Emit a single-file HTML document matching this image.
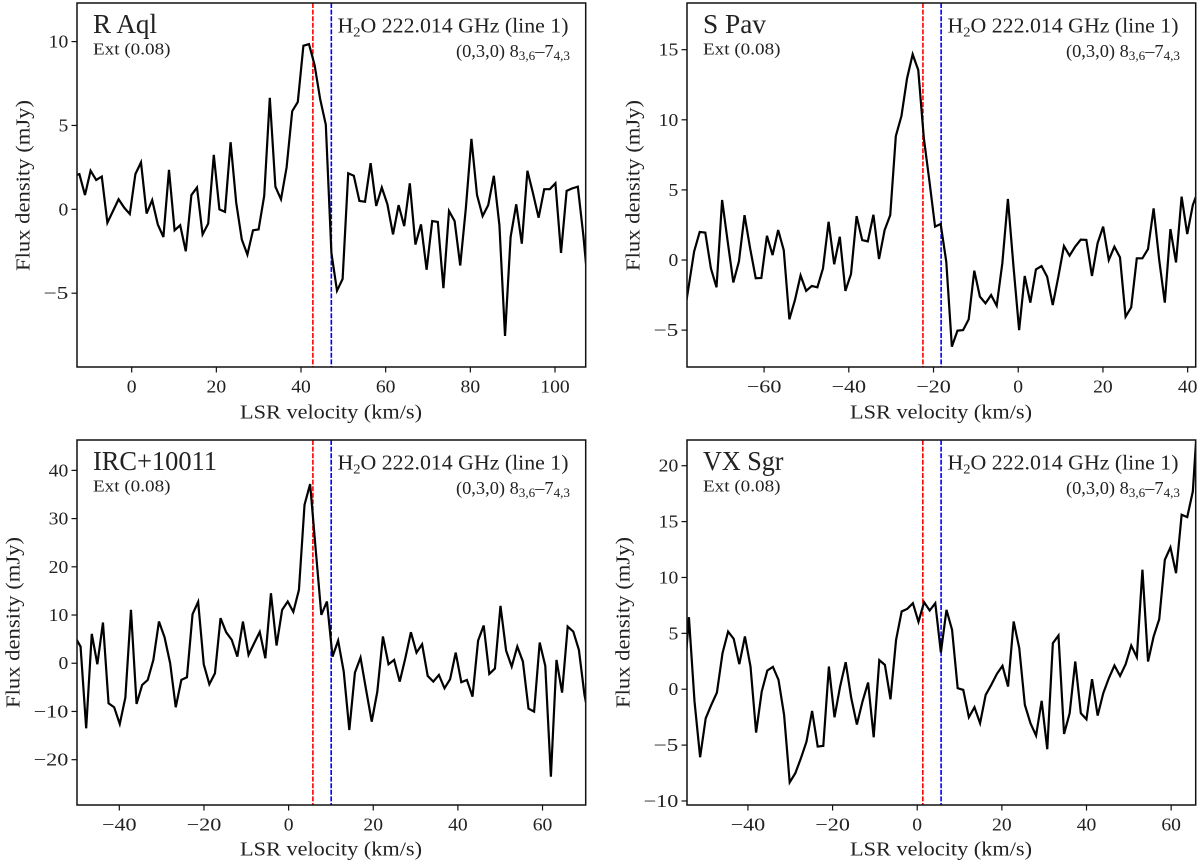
<!DOCTYPE html>
<html lang="en">
<head>
<meta charset="utf-8">
<title>H2O 222.014 GHz spectra</title>
<style>
html,body{margin:0;padding:0;background:#fff;}
svg{display:block;}
text{font-family:"Liberation Serif",serif;fill:#222;}
</style>
</head>
<body>
<svg id="figure" xmlns="http://www.w3.org/2000/svg" width="1200" height="864" viewBox="0 0 1200 864">
  <rect x="0" y="0" width="1200" height="864" fill="#fff"/>
  <defs>
    <clipPath id="clip-a"><rect x="77" y="3" width="508.7" height="364"/></clipPath>
    <clipPath id="clip-b"><rect x="687" y="3" width="508.7" height="364"/></clipPath>
    <clipPath id="clip-c"><rect x="77" y="440" width="508.7" height="365"/></clipPath>
    <clipPath id="clip-d"><rect x="687" y="440" width="508.7" height="365"/></clipPath>
  </defs>

  <g id="panel-r-aql">
    <text x="93" y="33" font-size="27" textLength="64" lengthAdjust="spacingAndGlyphs">R Aql</text>
    <text x="93" y="54.5" font-size="17" textLength="77.5" lengthAdjust="spacingAndGlyphs">Ext (0.08)</text>
    <text x="337.5" y="32.7" font-size="21" textLength="231" lengthAdjust="spacingAndGlyphs">H<tspan font-size="14" dy="4">2</tspan><tspan dy="-4">O 222.014 GHz (line 1)</tspan></text>
    <text x="456" y="57" font-size="17.5" textLength="114" lengthAdjust="spacingAndGlyphs">(0,3,0) 8<tspan font-size="12.5" dy="3">3,6</tspan><tspan dy="-3">–7</tspan><tspan font-size="12.5" dy="3">4,3</tspan></text>
    <text x="240" y="418.5" font-size="20" textLength="182" lengthAdjust="spacingAndGlyphs">LSR velocity (km/s)</text>
    <text transform="translate(29.5 271) rotate(-90)" font-size="20" textLength="171" lengthAdjust="spacingAndGlyphs">Flux density (mJy)</text>
  </g>

  <g id="panel-s-pav">
    <text x="703" y="33" font-size="27" textLength="63" lengthAdjust="spacingAndGlyphs">S Pav</text>
    <text x="703" y="54.5" font-size="17" textLength="77.5" lengthAdjust="spacingAndGlyphs">Ext (0.08)</text>
    <text x="947.5" y="32.7" font-size="21" textLength="231" lengthAdjust="spacingAndGlyphs">H<tspan font-size="14" dy="4">2</tspan><tspan dy="-4">O 222.014 GHz (line 1)</tspan></text>
    <text x="1066" y="57" font-size="17.5" textLength="114" lengthAdjust="spacingAndGlyphs">(0,3,0) 8<tspan font-size="12.5" dy="3">3,6</tspan><tspan dy="-3">–7</tspan><tspan font-size="12.5" dy="3">4,3</tspan></text>
    <text x="850" y="418.5" font-size="20" textLength="182" lengthAdjust="spacingAndGlyphs">LSR velocity (km/s)</text>
    <text transform="translate(639.5 271) rotate(-90)" font-size="20" textLength="171" lengthAdjust="spacingAndGlyphs">Flux density (mJy)</text>
  </g>

  <g id="panel-irc">
    <text x="93" y="470" font-size="27" textLength="124" lengthAdjust="spacingAndGlyphs">IRC+10011</text>
    <text x="93" y="491.5" font-size="17" textLength="77.5" lengthAdjust="spacingAndGlyphs">Ext (0.08)</text>
    <text x="337.5" y="469.7" font-size="21" textLength="231" lengthAdjust="spacingAndGlyphs">H<tspan font-size="14" dy="4">2</tspan><tspan dy="-4">O 222.014 GHz (line 1)</tspan></text>
    <text x="456" y="494" font-size="17.5" textLength="114" lengthAdjust="spacingAndGlyphs">(0,3,0) 8<tspan font-size="12.5" dy="3">3,6</tspan><tspan dy="-3">–7</tspan><tspan font-size="12.5" dy="3">4,3</tspan></text>
    <text x="240" y="855.5" font-size="20" textLength="182" lengthAdjust="spacingAndGlyphs">LSR velocity (km/s)</text>
    <text transform="translate(19.5 708) rotate(-90)" font-size="20" textLength="171" lengthAdjust="spacingAndGlyphs">Flux density (mJy)</text>
  </g>

  <g id="panel-vx-sgr">
    <text x="703" y="470" font-size="27" textLength="80.5" lengthAdjust="spacingAndGlyphs">VX Sgr</text>
    <text x="703" y="491.5" font-size="17" textLength="77.5" lengthAdjust="spacingAndGlyphs">Ext (0.08)</text>
    <text x="947.5" y="469.7" font-size="21" textLength="231" lengthAdjust="spacingAndGlyphs">H<tspan font-size="14" dy="4">2</tspan><tspan dy="-4">O 222.014 GHz (line 1)</tspan></text>
    <text x="1066" y="494" font-size="17.5" textLength="114" lengthAdjust="spacingAndGlyphs">(0,3,0) 8<tspan font-size="12.5" dy="3">3,6</tspan><tspan dy="-3">–7</tspan><tspan font-size="12.5" dy="3">4,3</tspan></text>
    <text x="850" y="855.5" font-size="20" textLength="182" lengthAdjust="spacingAndGlyphs">LSR velocity (km/s)</text>
    <text transform="translate(629.5 708) rotate(-90)" font-size="20" textLength="171" lengthAdjust="spacingAndGlyphs">Flux density (mJy)</text>
  </g>
</svg>

<script>
// Channel width shared by all spectra (km/s)
const channelWidth = 1.323;

// R Aql
const rAqlFirstVelocity = -13.68;
const rAqlFlux = [2.0,2.1,0.85,2.3,1.75,1.95,-0.8,-0.1,0.6,0.1,-0.28,2.1,2.8,-0.25,0.55,-0.9,-1.65,2.35,-1.25,-0.95,-2.5,0.85,1.3,-1.5,-0.85,3.25,0,-0.15,4.0,0.4,-1.8,-2.7,-1.25,-1.2,0.8,6.65,1.35,0.6,2.5,5.85,6.4,9.75,9.85,8.6,6.56,5.05,-2.6,-4.85,-4.15,2.15,2.0,0.5,0.45,2.75,0.2,1.3,0.3,-1.5,0.25,-1.0,1.55,-2.1,-0.9,-3.6,-0.7,-0.75,-4.7,-0.1,-0.7,-3.35,0.05,4.2,0.85,-0.4,0.25,2.0,-0.95,-7.55,-1.65,0.3,-2.05,2.3,0.95,-0.5,1.2,1.2,1.55,-2.6,1.1,1.25,1.35,-1.6,-5.2];
const rAqlXTicks = [0,20,40,60,80,100];
const rAqlYTicks = [-5,0,5,10];
const rAqlMarkers = [42.8,47.16];

// S Pav
const sPavFirstVelocity = -79.17;
const sPavFlux = [-4.5,-1.97,0.6,2.0,1.95,-0.6,-1.95,4.28,1.3,-1.6,-0.1,3.2,0.83,-1.3,-1.28,1.73,0.35,2.14,0.7,-4.23,-2.85,-1.1,-2.2,-1.85,-1.95,-0.6,2.73,-0.3,1.66,-2.2,-1.0,3.13,1.42,1.33,3.23,0.07,2.14,3.2,8.84,10.27,12.95,14.67,13.55,8.68,5.6,2.38,2.57,-0.12,-6.18,-5.04,-5.0,-4.23,-0.76,-2.61,-3.09,-2.5,-3.26,-0.24,4.35,-0.48,-5.0,-1.14,-3.04,-0.67,-0.43,-1.19,-3.21,-1.19,1.0,0.31,0.95,1.45,1.43,-1.14,1.19,2.38,0,0.95,0.19,-4.04,-3.38,0.12,0.12,0.78,3.68,0,-3.04,2.21,-0.17,4.52,1.85,3.92,5.0];
const sPavXTicks = [-60,-40,-20,0,20,40];
const sPavYTicks = [-5,0,5,10,15];
const sPavMarkers = [-22.5,-18.2];

// IRC+10011
const ircFirstVelocity = -50.48;
const ircFlux = [5.5,3.46,-13.5,6.09,-0.21,8.44,-8.3,-9.13,-12.6,-7.13,11.07,-8.44,-4.5,-3.46,0.69,8.65,5.4,0,-9.13,-3.46,-2.9,10.17,12.73,-0.21,-4.36,-2.08,9.34,6.44,4.84,1.38,8.65,1.73,4.15,6.5,1.04,14.53,3.67,11.07,12.8,10.66,15.22,32.87,37.16,23.53,10.03,12.8,1.38,4.7,-1.73,-13.84,-1.94,1.18,-5.54,-12.11,-5.88,5.54,-0.21,0.69,-3.81,1.04,6.44,2.21,3.94,-2.63,-3.81,-2.42,-5.19,-3.32,2.21,-3.94,-3.46,-6.92,4.7,7.82,-2.21,-1.11,11.9,2.63,-0.69,3.46,0.35,-9.41,-10.03,4.29,-0.55,-23.53,0.69,-6.09,7.61,6.57,2.77,-6.57,-12.46];
const ircXTicks = [-40,-20,0,20,40,60];
const ircYTicks = [-20,-10,0,10,20,30,40];
const ircMarkers = [5.74,10.06];

// VX Sgr
const vxSgrFirstVelocity = -55.27;
const vxSgrFlux = [-0.15,6.45,-1.1,-6.09,-2.6,-1.4,-0.3,3.22,5.16,4.51,2.24,4.72,2.03,-3.88,-0.21,1.67,2.0,0.84,-2.3,-8.33,-7.52,-6.18,-4.69,-1.94,-5.13,-5.07,2.03,-2.51,0.24,2.42,-0.81,-3.16,-1.1,0.6,-4.3,2.6,2.18,-0.9,4.42,6.96,7.19,7.7,6.03,7.79,7.04,7.7,3.28,7.1,5.31,0.09,-0.06,-2.51,-1.61,-3.04,-0.51,0.39,1.37,2.09,0.24,6.06,3.67,-1.4,-3.04,-4.15,-1.04,-5.37,4.12,4.81,-4.0,-2.15,2.48,-2.15,-2.69,0.9,-2.36,-0.36,0.99,2.12,1.19,2.24,3.91,2.87,10.69,2.48,4.72,6.27,11.58,12.69,10.39,15.61,15.4,17.7,25.5];
const vxSgrXTicks = [-40,-20,0,20,40,60];
const vxSgrYTicks = [-10,-5,0,5,10,15,20];
const vxSgrMarkers = [1.32,5.64];

const SVG_NS = 'http://www.w3.org/2000/svg';
const DIGIT_WIDTH = 9.8;
const MINUS_WIDTH = 15;

function svgEl(tag, attrs) {
  const el = document.createElementNS(SVG_NS, tag);
  for (const k in attrs) el.setAttribute(k, attrs[k]);
  return el;
}

function formatTick(v) {
  return (v < 0 ? '\u2212' : '') + Math.abs(v);
}

function tickWidth(v) {
  return String(Math.abs(v)).length * DIGIT_WIDTH + (v < 0 ? MINUS_WIDTH : 0);
}

function drawPanel(panelId, clipId, box, xDomain, yDomain, firstVelocity, flux, xTicks, yTicks, markers) {
  const g = document.getElementById(panelId);
  const xScale = v => box.left + (v - xDomain[0]) / (xDomain[1] - xDomain[0]) * (box.right - box.left);
  const yScale = v => box.bottom - (v - yDomain[0]) / (yDomain[1] - yDomain[0]) * (box.bottom - box.top);

  // rest/systemic velocity markers
  const markerColors = ['#ff0000', '#0000ff'];
  markers.forEach((m, i) => {
    const line = svgEl('line', {x1: xScale(m), x2: xScale(m), y1: box.top, y2: box.bottom,
      stroke: markerColors[i], 'stroke-width': 1.6, 'stroke-dasharray': '5 1.6'});
    
    
    g.appendChild(line);
  });

  // spectrum
  const points = flux.map((f, i) => xScale(firstVelocity + i * channelWidth).toFixed(2) + ',' + yScale(f).toFixed(2)).join(' ');
  const spectrum = svgEl('polyline', {points: points, fill: 'none', stroke: '#000', 'stroke-width': 2.2,
    'stroke-linejoin': 'miter', 'clip-path': 'url(#' + clipId + ')'});
  
  
  g.appendChild(spectrum);

  // frame
  const frame = svgEl('rect', {x: box.left, y: box.top, width: box.right - box.left, height: box.bottom - box.top,
    fill: 'none', stroke: '#111', 'stroke-width': 1.5});
  
  
  g.appendChild(frame);

  // x ticks
  xTicks.forEach(t => {
    const x = xScale(t);
    const tick = svgEl('line', {x1: x, x2: x, y1: box.bottom, y2: box.bottom + 5.5, stroke: '#111', 'stroke-width': 1.2});
    
    
    g.appendChild(tick);
    const label = svgEl('text', {x: x - tickWidth(t) / 2, y: box.bottom + 25.5, 'font-size': 18,
      textLength: tickWidth(t), lengthAdjust: 'spacingAndGlyphs'});
    
    
    label.textContent = formatTick(t);
    g.appendChild(label);
  });

  // y ticks
  yTicks.forEach(t => {
    const y = yScale(t);
    const tick = svgEl('line', {x1: box.left - 5.5, x2: box.left, y1: y, y2: y, stroke: '#111', 'stroke-width': 1.2});
    
    
    g.appendChild(tick);
    const label = svgEl('text', {x: box.left - 8.7 - tickWidth(t), y: y + 6, 'font-size': 18,
      textLength: tickWidth(t), lengthAdjust: 'spacingAndGlyphs'});
    
    
    label.textContent = formatTick(t);
    g.appendChild(label);
  });
}

drawPanel('panel-r-aql', 'clip-a', {left: 77, right: 585.7, top: 3, bottom: 367}, [-12.92, 107.25], [-9.4, 12.3],
  rAqlFirstVelocity, rAqlFlux, rAqlXTicks, rAqlYTicks, rAqlMarkers);
drawPanel('panel-s-pav', 'clip-b', {left: 687, right: 1195.7, top: 3, bottom: 367}, [-78.2, 41.9], [-7.63, 18.33],
  sPavFirstVelocity, sPavFlux, sPavXTicks, sPavYTicks, sPavMarkers);
drawPanel('panel-irc', 'clip-c', {left: 77, right: 585.7, top: 440, bottom: 805}, [-50.0, 70.2], [-29.4, 46.3],
  ircFirstVelocity, ircFlux, ircXTicks, ircYTicks, ircMarkers);
drawPanel('panel-vx-sgr', 'clip-d', {left: 687, right: 1195.7, top: 440, bottom: 805}, [-54.4, 65.8], [-10.36, 22.3],
  vxSgrFirstVelocity, vxSgrFlux, vxSgrXTicks, vxSgrYTicks, vxSgrMarkers);
</script>
</body>
</html>
